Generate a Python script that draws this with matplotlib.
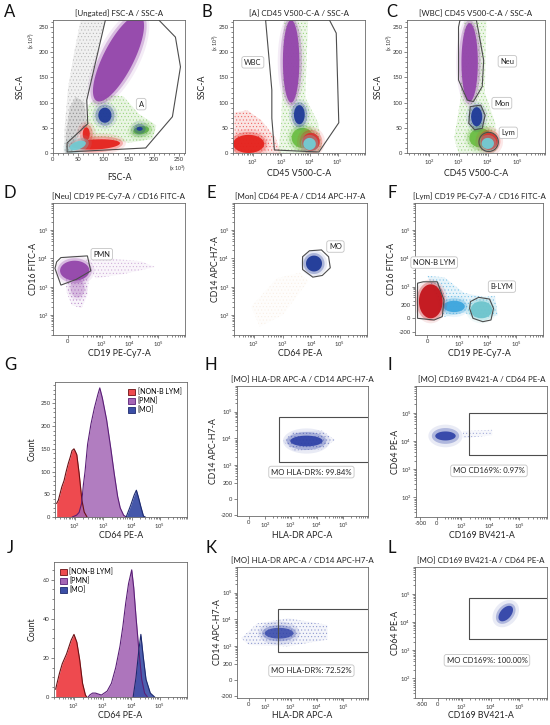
import numpy as np
import matplotlib.pyplot as plt
from matplotlib.colors import to_rgba
from matplotlib.patches import Polygon, Patch
from matplotlib.ticker import NullFormatter

plt.rcParams['font.family'] = ['Lato', 'DejaVu Sans']
plt.rcParams['mathtext.default'] = 'regular'
plt.rcParams['hatch.linewidth'] = 0.4

W, H = 550, 725
LN10 = np.log(10)

COL = {
    'gray': '#8a8a8a', 'purple': '#9446ab', 'navy': '#1f3a98', 'red': '#e5231e',
    'cyan': '#72cdd5', 'green': '#6cbf45', 'crimson': '#c3151c', 'sky': '#3ea6de',
    'teal': '#6ec5cd', 'blue': '#2c3fa6', 'tan': '#e0b27a',
}

# ---------------- values ----------------
# positions are in axis units: linear -> value (x10^3 for FSC/SSC),
# log -> log10(value), biexponential -> asinh(value / 2c) / ln10
# clouds: (centre x, centre y, radius x, radius y, angle, colour)

# A  [Ungated] FSC-A / SSC-A
a_gray_sparse = [(21, 0), (23, 50), (30, 130), (42, 200), (55, 264), (104, 264), (67, 105),
                 (69, 58), (40, 20), (40, 0)]
a_gray_dense = [(24, 0), (26, 40), (33, 90), (45, 112), (62, 100), (67, 60), (45, 25), (38, 0)]
a_green_haze = [(62, 22), (70, 95), (95, 118), (140, 112), (170, 78), (205, 55), (198, 28),
                (150, 20), (100, 30)]
a_clouds = [(130, 188, 95, 30, 63, 'purple'), (103, 75, 13, 15, 0, 'navy'),
            (175, 45, 16, 8, 10, 'green'), (172, 48, 6, 4, 0, 'navy'),
            (85, 17, 48, 10, 3, 'red'), (66, 38, 7, 13, 0, 'red'),
            (49, 15, 17, 8, 20, 'cyan')]
a_gate = [(104, 264), (210, 264), (243, 230), (253, 171), (237, 72), (184, 10), (28, 2),
          (28, 20), (69, 58), (67, 105)]

# B  [A] CD45 V500-C-A / SSC-A
b_red_haze = [(1.35, 0), (1.35, 80), (1.8, 85), (2.3, 65), (2.8, 30), (3.0, 0)]
b_green_haze = [(2.9, 0), (3.0, 60), (3.1, 264), (3.95, 264), (3.85, 110), (4.3, 60),
                (4.45, 10), (4.3, 0)]
b_clouds = [(1.85, 18, 0.55, 18, 0, 'red'), (3.75, 30, 0.38, 20, 0, 'green'),
            (3.35, 182, 0.29, 82, 0, 'purple'), (3.64, 76, 0.19, 19, 0, 'navy'),
            (4.05, 22, 0.31, 18, 0, 'red'), (4.0, 18, 0.22, 12, 0, 'cyan')]
b_gate = [(2.45, 264), (2.67, 125), (2.67, 69), (2.76, 6), (4.33, 2), (5.03, 60),
          (4.94, 238), (4.70, 264)]

# C  [WBC] CD45 V500-C-A / SSC-A
c_green_haze = [(3.0, 0), (2.85, 30), (3.05, 100), (3.2, 264), (3.95, 264), (3.9, 120),
                (4.25, 60), (4.35, 10), (4.2, 0)]
c_clouds = [(3.75, 30, 0.38, 19, 0, 'green'), (3.38, 180, 0.28, 78, 0, 'purple'),
            (3.62, 72, 0.19, 19, 0, 'navy'), (4.05, 23, 0.29, 17, 0, 'red'),
            (4.0, 19, 0.21, 11, 0, 'cyan')]
c_gate_neu = [(3.05, 264), (3.61, 264), (3.86, 184), (3.81, 132), (3.51, 102), (3.30, 105),
              (3.0, 145), (3.0, 250)]
c_gate_mon = [(3.40, 92), (3.76, 95), (3.91, 75), (3.81, 49), (3.55, 46), (3.35, 59)]
c_gate_lym = (4.03, 22, 0.33, 19)

# D  [Neu] CD19 PE-Cy7-A / CD16 FITC-A
d_haze = [(0.6, 3.95), (1.5, 4.0), (2.6, 3.9), (3.1, 3.7), (2.0, 3.45), (1.0, 3.3)]
d_tail = [(-0.05, 3.3), (0.75, 3.3), (0.7, 2.7), (0.5, 2.25), (0.15, 2.35), (-0.05, 2.85)]
d_clouds = [(0.35, 2.95, 0.22, 0.3, 0, 'purple'), (0.25, 3.57, 0.52, 0.35, 0, 'purple')]
d_gate = [(-0.39, 3.88), (-0.24, 4.03), (0.70, 4.09), (0.82, 3.56), (0.30, 3.26),
          (-0.24, 3.06), (-0.45, 3.65)]

# E  [Mon] CD64 PE-A / CD14 APC-H7-A
e_haze = [(1.9, 2.3), (2.8, 3.3), (3.6, 3.5), (3.9, 3.2), (3.0, 2.0), (2.2, 1.6)]
e_clouds = [(4.1, 3.82, 0.28, 0.28, 0, 'navy')]
e_gate = [(3.70, 4.06), (3.94, 4.27), (4.36, 4.30), (4.61, 4.06), (4.67, 3.67), (4.39, 3.40),
          (4.06, 3.34), (3.70, 3.61)]

# F  [Lym] CD19 PE-Cy7-A / CD16 FITC-A
f_haze = [(0.0, 1.5), (0.6, 1.45), (1.3, 0.9), (2.0, 0.75), (2.4, 0.8), (2.5, 0.1), (1.8, 0.0),
          (1.3, 0.2), (0.6, 0.05)]
f_clouds = [(0.95, 0.42, 0.38, 0.2, 0, 'sky'), (0.12, 0.6, 0.42, 0.6, 0, 'crimson'),
            (1.92, 0.3, 0.38, 0.3, 0, 'teal')]
f_gate_nonb = [(-0.35, 1.24), (-0.15, 1.29), (0.35, 1.29), (0.59, 0.65), (0.53, 0.06),
               (0.24, -0.06), (-0.35, 0.0)]
f_gate_b = [(1.53, 0.59), (1.82, 0.74), (2.21, 0.68), (2.35, 0.35), (2.26, -0.06),
            (1.97, -0.12), (1.62, 0.0), (1.5, 0.35)]

# G / J  CD64 histograms (log10 CD64, count)
g_lym_x = [1.36, 1.42, 1.54, 1.62, 1.69, 1.77, 1.84, 1.90, 1.97, 2.02, 2.07, 2.15, 2.25, 2.33, 2.43]
g_lym_y = [30, 37, 66, 80, 99, 118, 132, 146, 150, 144, 137, 97, 37, 11, 0]
g_pmn_x = [1.91, 2.06, 2.15, 2.24, 2.30, 2.36, 2.45, 2.57, 2.69, 2.81, 2.88, 2.97, 3.12, 3.27,
           3.39, 3.51, 3.60, 3.72, 3.81]
g_pmn_y = [0, 4, 10, 30, 70, 100, 160, 205, 240, 269, 284, 262, 214, 150, 95, 45, 20, 4, 0]
g_mo_x = [3.81, 3.97, 4.09, 4.17, 4.24, 4.33, 4.42, 4.48]
g_mo_y = [0, 26, 48, 59, 44, 22, 2, 0]

j_lym_x = [1.36, 1.39, 1.49, 1.59, 1.74, 1.90, 2.00, 2.10, 2.20, 2.30, 2.40, 2.45]
j_lym_y = [4, 6, 12, 17, 22, 29, 32, 28, 19, 7, 1, 0]
j_pmn_x = [2.50, 2.55, 2.65, 2.75, 2.96, 3.16, 3.31, 3.46, 3.61, 3.71, 3.81, 3.91, 4.02, 4.09,
           4.17, 4.27, 4.37, 4.47, 4.57]
j_pmn_y = [0, 1, 2, 2, 1, 3, 7, 15, 26, 36, 48, 58, 65, 56, 41, 24, 9, 2, 0]
j_mo_x = [4.07, 4.17, 4.27, 4.34, 4.42, 4.52, 4.67, 4.82]
j_mo_y = [0, 10, 24, 32, 21, 9, 2, 0]
hist_names = ['[NON-B LYM]', '[PMN]', '[MO]']

# H / K  HLA-DR vs CD14 ; I / L  CD169 vs CD64
h_haze = [(1.3, 2.15), (1.7, 2.5), (2.8, 2.55), (3.3, 2.2), (2.8, 1.85), (1.7, 1.8)]
h_clouds = [(2.2, 2.16, 0.62, 0.2, 0, 'blue')]
h_gate = [(1.16, 1.39), (5, 1.39), (5, 3.05), (1.16, 3.05)]
k_haze = [(-0.3, 1.55), (0.3, 2.1), (1.5, 2.3), (3.0, 2.05), (3.0, 1.5), (1.5, 1.25), (0.0, 1.3)]
k_clouds = [(1.15, 1.74, 0.55, 0.2, 0, 'blue')]
k_gate = [(1.12, 1.05), (5, 1.05), (5, 2.64), (1.12, 2.64)]
i_haze = [(0.9, 4.1), (1.9, 4.2), (1.9, 4.4), (0.9, 4.35)]
i_clouds = [(0.3, 4.18, 0.35, 0.16, 0, 'blue')]
i_gate = [(1.09, 3.52), (4, 3.52), (4, 5.0), (1.09, 5.0)]
l_clouds = [(2.35, 4.3, 0.32, 0.19, 50, 'blue')]
l_gate = [(1.09, 3.39), (4, 3.39), (4, 4.85), (1.09, 4.85)]

# ---------------- helpers ----------------
fig = plt.figure(figsize=(W / 100, H / 100), dpi=100)
SPEC = {}


def to_data(spec, u):
    u = np.asarray(u, float)
    if spec[0] == 'log':
        return 10 ** u
    if spec[0] == 'asinh':
        return 2 * spec[1] * np.sinh(u * LN10)
    return u


def set_scale(ax, which, spec):
    setter = ax.set_xscale if which == 'x' else ax.set_yscale
    if spec[0] == 'log':
        setter('log')
    elif spec[0] == 'asinh':
        c = spec[1]
        setter('function', functions=(lambda v, c=c: np.arcsinh(np.asarray(v) / (2 * c)) / LN10,
                                       lambda u, c=c: 2 * c * np.sinh(np.asarray(u) * LN10)))


def dec(k):
    return r'$10^{%d}$' % k


LOG_MINOR = [m * 10.0 ** k for k in range(1, 6) for m in range(2, 10)]
BIEX_MINOR = [m * 10.0 ** k for k in range(2, 6) for m in range(2, 10)]


def set_ticks(ax, which, major, labels, minor):
    if which == 'x':
        ax.set_xticks(major, labels)
        ax.set_xticks(minor, minor=True)
        ax.xaxis.set_minor_formatter(NullFormatter())
    else:
        ax.set_yticks(major, labels)
        ax.set_yticks(minor, minor=True)
        ax.yaxis.set_minor_formatter(NullFormatter())


def panel(rect, xs, ys, xlim, ylim, title, xlabel, ylabel, xoff, yoff):
    l, t, r, b = rect
    ax = fig.add_axes([l / W, 1 - b / H, (r - l) / W, (b - t) / H])
    set_scale(ax, 'x', xs)
    set_scale(ax, 'y', ys)
    ax.set_xlim(to_data(xs, xlim[0]), to_data(xs, xlim[1]))
    ax.set_ylim(to_data(ys, ylim[0]), to_data(ys, ylim[1]))
    SPEC[ax] = (xs, ys, (r - l) / (xlim[1] - xlim[0]), (b - t) / (ylim[1] - ylim[0]))
    for s in ax.spines.values():
        s.set_color('#6a6a6a')
        s.set_linewidth(0.6)
    ax.tick_params(which='both', direction='out', width=0.5, colors='#555555',
                   labelsize=4.2, pad=1, labelcolor='#333333')
    ax.tick_params(which='major', length=2.2)
    ax.tick_params(which='minor', length=1.2)
    if title:
        ax.set_title(title, fontsize=5.7, pad=2.8, color='#222222')
    ax.set_xlabel(xlabel, fontsize=6.3, color='#222222')
    ax.xaxis.set_label_coords(0.5, -xoff / (b - t))
    ax.xaxis.label.set_va('center')
    ax.set_ylabel(ylabel, fontsize=6.3, color='#222222')
    ax.yaxis.set_label_coords(-yoff / (r - l), 0.5)
    ax.yaxis.label.set_va('center')
    return ax


def pts_data(ax, pts):
    xs, ys = SPEC[ax][:2]
    u, v = np.array(pts, float).T
    return np.column_stack([to_data(xs, u), to_data(ys, v)])


def cloud(ax, cx, cy, rx, ry, ang, colour, layers=((6, 0.10), (3, 0.30), (0, 0.95))):
    xs, ys, ppx, ppy = SPEC[ax]
    t = np.linspace(0, 2 * np.pi, 90)
    a = np.radians(ang)
    for m, alpha in layers:
        ex = (rx * ppx + m) * np.cos(t)
        ey = (ry * ppy + m) * np.sin(t)
        u = cx + (ex * np.cos(a) - ey * np.sin(a)) / ppx
        v = cy + (ex * np.sin(a) + ey * np.cos(a)) / ppy
        ax.add_patch(Polygon(pts_data(ax, np.column_stack([u, v])), closed=True,
                             fc=COL[colour], ec='none', lw=0, alpha=alpha, zorder=2))


def haze(ax, pts, colour, alpha=0.15, dots=0.6):
    ax.add_patch(Polygon(pts_data(ax, pts), closed=True, fc=to_rgba(COL[colour], alpha),
                         ec=to_rgba(COL[colour], dots), lw=0, hatch='.....', zorder=1.5))


def gate(ax, pts):
    ax.add_patch(Polygon(pts_data(ax, pts), closed=True, fc='none', ec='#4d4d4d', lw=0.8,
                         zorder=3))


def gate_ellipse(ax, cx, cy, rx, ry):
    t = np.linspace(0, 2 * np.pi, 90)
    gate(ax, np.column_stack([cx + rx * np.cos(t), cy + ry * np.sin(t)]))


def tag(ax, x, y, s, fs=5.4):
    xs, ys = SPEC[ax][:2]
    ax.text(to_data(xs, x), to_data(ys, y), s, fontsize=fs, ha='center', va='center',
            color='#222222', zorder=4,
            bbox=dict(boxstyle='round,pad=0.3', fc='white', ec='#c4c4c4', lw=0.6))


def letter(x, y, s):
    fig.text(x / W, 1 - y / H, s, fontsize=12, ha='center', va='center', color='#111111')


def multiplier(x, y, rot):
    fig.text(x / W, 1 - y / H, r'(x $10^{3}$)', fontsize=3.8, rotation=rot, ha='center',
             va='center', color='#333333')


def hist(ax, xs, ys, fc, ec, alpha):
    x = 10 ** np.asarray(xs)
    ax.fill_between(x, 0, ys, color=fc, alpha=alpha, lw=0, zorder=2)
    ax.plot(x, ys, color=ec, lw=0.8, zorder=3)


LIN = ('lin',)
LOG = ('log',)
lin_major = [0, 50, 100, 150, 200, 250]
lin_minor = list(range(0, 261, 10))
dec_major = [1e2, 1e3, 1e4, 1e5]
dec_labels = [dec(2), dec(3), dec(4), dec(5)]

# ---------------- row 1 ----------------
ax = panel((53, 20, 185, 153), LIN, LIN, (0, 262), (0, 264), '[Ungated] FSC-A / SSC-A',
           'FSC-A', 'SSC-A', 24, 33)
set_ticks(ax, 'x', lin_major, [str(v) for v in lin_major], lin_minor)
set_ticks(ax, 'y', lin_major, [str(v) for v in lin_major], lin_minor)
haze(ax, a_gray_sparse, 'gray', 0.12, 0.5)
haze(ax, a_gray_dense, 'gray', 0.25, 0.6)
haze(ax, a_green_haze, 'green', 0.15, 0.6)
for c in a_clouds:
    cloud(ax, *c)
gate(ax, a_gate)
tag(ax, 175, 97, 'A')
multiplier(31, 40, 90)
multiplier(178, 168, 0)

ax = panel((233, 20, 365, 153), LOG, LIN, (1.39, 5.39), (0, 264), '[A] CD45 V500-C-A / SSC-A',
           'CD45 V500-C-A', 'SSC-A', 20, 31)
set_ticks(ax, 'x', dec_major, dec_labels, LOG_MINOR)
set_ticks(ax, 'y', lin_major, [str(v) for v in lin_major], lin_minor)
haze(ax, b_red_haze, 'red', 0.12, 0.6)
haze(ax, b_green_haze, 'green', 0.12, 0.6)
for c in b_clouds:
    cloud(ax, *c)
gate(ax, b_gate)
tag(ax, 2.0, 180, 'WBC')
multiplier(215, 42, 90)

ax = panel((407, 20, 545, 153), LOG, LIN, (1.24, 5.42), (0, 264), '[WBC] CD45 V500-C-A / SSC-A',
           'CD45 V500-C-A', 'SSC-A', 20, 29)
set_ticks(ax, 'x', dec_major, dec_labels, LOG_MINOR)
set_ticks(ax, 'y', lin_major, [str(v) for v in lin_major], lin_minor)
haze(ax, c_green_haze, 'green', 0.12, 0.6)
for c in c_clouds:
    cloud(ax, *c)
gate(ax, c_gate_neu)
gate(ax, c_gate_mon)
gate_ellipse(ax, *c_gate_lym)
tag(ax, 4.67, 182, 'Neu')
tag(ax, 4.48, 99, 'Mon')
tag(ax, 4.70, 40, 'Lym')
multiplier(389, 42, 90)

# ---------------- row 2 ----------------
ax = panel((53, 203, 185, 335), ('asinh', 62), LOG, (-0.52, 3.48), (1.40, 5.36),
           '[Neu] CD19 PE-Cy7-A / CD16 FITC-A', 'CD19 PE-Cy7-A', 'CD16 FITC-A', 18, 20)
set_ticks(ax, 'x', [0, 1e3, 1e4, 1e5], ['0', dec(3), dec(4), dec(5)], BIEX_MINOR)
set_ticks(ax, 'y', dec_major, dec_labels, LOG_MINOR)
haze(ax, d_haze, 'purple', 0.05, 0.35)
haze(ax, d_tail, 'purple', 0.06, 0.55)
cloud(ax, *d_clouds[0], layers=((4, 0.1), (1, 0.25)))
cloud(ax, *d_clouds[1])
gate(ax, d_gate)
tag(ax, 1.21, 4.15, 'PMN')

ax = panel((234, 203, 367, 335), LOG, LOG, (1.46, 5.42), (1.43, 5.39),
           '[Mon] CD64 PE-A / CD14 APC-H7-A', 'CD64 PE-A', 'CD14 APC-H7-A', 18, 19)
set_ticks(ax, 'x', dec_major, dec_labels, LOG_MINOR)
set_ticks(ax, 'y', dec_major, dec_labels, LOG_MINOR)
haze(ax, e_haze, 'tan', 0.02, 0.15)
for c in e_clouds:
    cloud(ax, *c)
gate(ax, e_gate)
tag(ax, 4.85, 4.42, 'MO')

ax = panel((415, 203, 543, 335), ('asinh', 70), ('asinh', 76), (-0.44, 3.32), (-0.59, 3.29),
           '[Lym] CD19 PE-Cy7-A / CD16 FITC-A', 'CD19 PE-Cy7-A', 'CD16 FITC-A', 18, 23)
set_ticks(ax, 'x', [0, 1e3, 1e4, 1e5], ['0', dec(3), dec(4), dec(5)], BIEX_MINOR)
set_ticks(ax, 'y', [-200, 0, 200, 1e3, 1e4, 1e5], ['-200', '0', '200', dec(3), dec(4), dec(5)],
          BIEX_MINOR)
haze(ax, f_haze, 'sky', 0.12, 0.6)
for c in f_clouds:
    cloud(ax, *c)
gate(ax, f_gate_nonb)
gate(ax, f_gate_b)
tag(ax, 0.24, 1.97, 'NON-B LYM')
tag(ax, 2.65, 1.12, 'B-LYM')

# ---------------- row 3 ----------------
hist_fc = ['#ee4a4f', '#a466b5', '#3b4ea6']
hist_ec = ['#6b1014', '#5a1f77', '#1d2a6e']

ax = panel((55, 382, 187, 517), LOG, LIN, (1.36, 5.42), (0, 297), None, 'CD64 PE-A', 'Count',
           18, 23)
set_ticks(ax, 'x', dec_major, dec_labels, LOG_MINOR)
set_ticks(ax, 'y', [0, 50, 100, 150, 200, 250], ['0', '50', '100', '150', '200', '250'],
          list(range(0, 297, 10)))
hist(ax, g_lym_x, g_lym_y, hist_fc[0], hist_ec[0], 1.0)
hist(ax, g_pmn_x, g_pmn_y, hist_fc[1], hist_ec[1], 0.85)
hist(ax, g_mo_x, g_mo_y, hist_fc[2], hist_ec[2], 0.95)
handles = [Patch(fc=f, ec=e, lw=0.6) for f, e in zip(hist_fc, hist_ec)]
ax.legend(handles, hist_names, loc='upper right', fontsize=5, frameon=False, handlelength=1.1,
          handleheight=1.0, handletextpad=0.3, labelspacing=0.25, borderaxespad=0.4)

ax = panel((237, 386, 368, 516), ('asinh', 25), ('asinh', 55), (-0.46, 4.14), (-0.64, 3.76),
           '[MO] HLA-DR APC-A / CD14 APC-H7-A', 'HLA-DR APC-A', 'CD14 APC-H7-A', 19, 24)
set_ticks(ax, 'x', [0, 1e2, 1e3, 1e4, 1e5], ['0', dec(2), dec(3), dec(4), dec(5)], BIEX_MINOR)
set_ticks(ax, 'y', [-200, 0, 200, 1e3, 1e4, 1e5], ['-200', '0', '200', dec(3), dec(4), dec(5)],
          BIEX_MINOR)
haze(ax, h_haze, 'blue', 0.06, 0.45)
for c in h_clouds:
    cloud(ax, *c, layers=((8, 0.10), (4, 0.3), (0, 0.9)))
gate(ax, h_gate)
tag(ax, 2.39, 1.0, 'MO HLA-DR%: 99.84%', 5.6)

ax = panel((416, 386, 547, 517), ('asinh', 150), LOG, (-0.71, 3.15), (1.42, 5.39),
           '[MO] CD169 BV421-A / CD64 PE-A', 'CD169 BV421-A', 'CD64 PE-A', 18, 21)
set_ticks(ax, 'x', [-500, 0, 1e3, 1e4, 1e5], ['-500', '0', dec(3), dec(4), dec(5)], BIEX_MINOR)
set_ticks(ax, 'y', dec_major, dec_labels, LOG_MINOR)
haze(ax, i_haze, 'blue', 0.04, 0.35)
for c in i_clouds:
    cloud(ax, *c, layers=((8, 0.10), (4, 0.3), (0, 0.9)))
gate(ax, i_gate)
tag(ax, 1.79, 2.94, 'MO CD169%: 0.97%', 5.6)

# ---------------- row 4 ----------------
ax = panel((54, 562, 187, 697), LOG, LIN, (1.36, 5.42), (0, 69), None, 'CD64 PE-A', 'Count',
           18, 22)
set_ticks(ax, 'x', dec_major, dec_labels, LOG_MINOR)
set_ticks(ax, 'y', [0, 20, 40, 60], ['0', '20', '40', '60'], list(range(0, 69, 5)))
hist(ax, j_lym_x, j_lym_y, hist_fc[0], hist_ec[0], 1.0)
hist(ax, j_pmn_x, j_pmn_y, hist_fc[1], hist_ec[1], 0.9)
hist(ax, j_mo_x, j_mo_y, hist_fc[2], hist_ec[2], 0.9)
handles = [Patch(fc=f, ec=e, lw=0.6) for f, e in zip(hist_fc, hist_ec)]
ax.legend(handles, hist_names, loc='upper left', fontsize=5, frameon=False, handlelength=1.1,
          handleheight=1.0, handletextpad=0.3, labelspacing=0.25, borderaxespad=0.4)

ax = panel((237, 567, 368, 698), ('asinh', 25), ('asinh', 55), (-0.46, 4.14), (-0.68, 3.76),
           '[MO] HLA-DR APC-A / CD14 APC-H7-A', 'HLA-DR APC-A', 'CD14 APC-H7-A', 17, 20)
set_ticks(ax, 'x', [0, 1e2, 1e3, 1e4, 1e5], ['0', dec(2), dec(3), dec(4), dec(5)], BIEX_MINOR)
set_ticks(ax, 'y', [-200, 0, 200, 1e3, 1e4, 1e5], ['-200', '0', '200', dec(3), dec(4), dec(5)],
          BIEX_MINOR)
haze(ax, k_haze, 'blue', 0.05, 0.45)
for c in k_clouds:
    cloud(ax, *c, layers=((7, 0.12), (3, 0.3), (0, 0.75)))
gate(ax, k_gate)
tag(ax, 2.39, 0.34, 'MO HLA-DR%: 72.52%', 5.6)

ax = panel((415, 567, 547, 698), ('asinh', 150), LOG, (-0.79, 3.21), (1.45, 5.45),
           '[MO] CD169 BV421-A / CD64 PE-A', 'CD169 BV421-A', 'CD64 PE-A', 17, 20)
set_ticks(ax, 'x', [-500, 0, 1e3, 1e4, 1e5], ['-500', '0', dec(3), dec(4), dec(5)], BIEX_MINOR)
set_ticks(ax, 'y', dec_major, dec_labels, LOG_MINOR)
for c in l_clouds:
    cloud(ax, *c, layers=((7, 0.10), (3, 0.3), (0, 0.9)))
gate(ax, l_gate)
tag(ax, 1.7, 2.64, 'MO CD169%: 100.00%', 5.6)

# panel letters
for x, y, s in [(10, 12, 'A'), (207, 12, 'B'), (392, 12, 'C'), (10, 193, 'D'), (211, 193, 'E'),
                (392, 193, 'F'), (10, 365, 'G'), (211, 365, 'H'), (390, 365, 'I'),
                (10, 548, 'J'), (211, 548, 'K'), (392, 548, 'L')]:
    letter(x, y, s)

fig.savefig('out.png', dpi=100, facecolor='white')
